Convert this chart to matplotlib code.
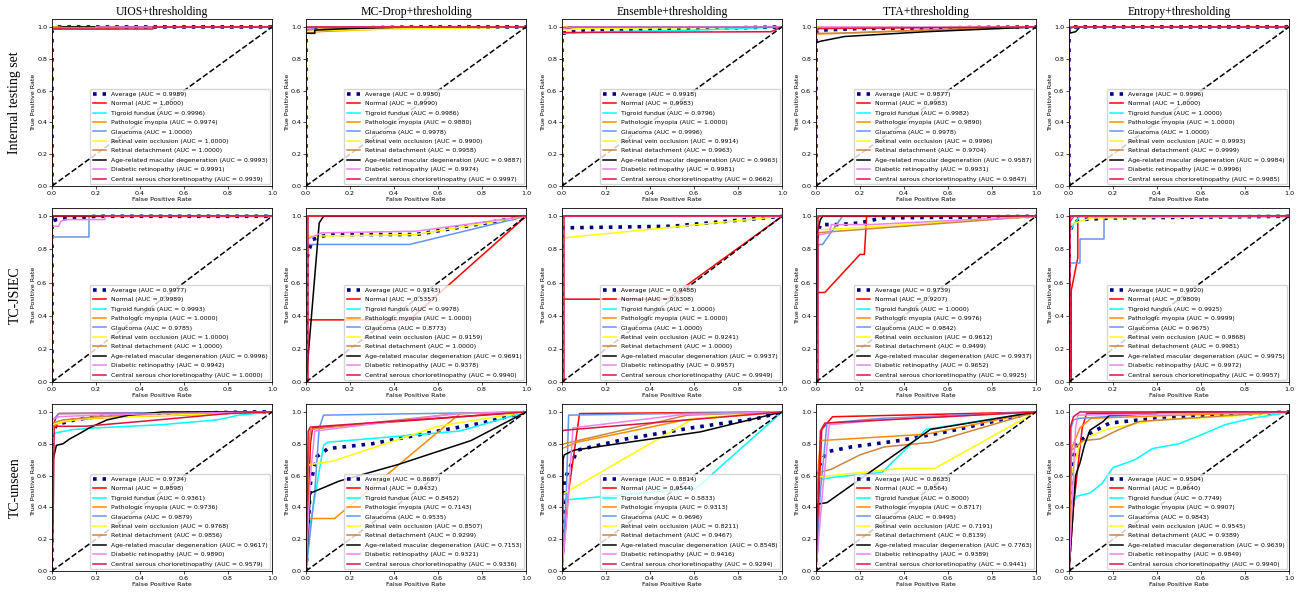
import matplotlib
matplotlib.use("Agg")
import matplotlib.pyplot as plt

# ---- labels ----
METHODS = ["UIOS+thresholding", "MC-Drop+thresholding", "Ensemble+thresholding",
           "TTA+thresholding", "Entropy+thresholding"]
DATASETS = ["Internal testing set", "TC-JSIEC", "TC-unseen"]
CLASSES = ["Normal", "Tigroid fundus", "Pathologic myopia", "Glaucoma",
           "Retinal vein occlusion", "Retinal detachment",
           "Age-related macular degeneration", "Diabetic retinopathy",
           "Central serous chorioretinopathy"]

# ---- AUCs: [average, 9 classes] ----
int_uios_auc = [0.9989, 1.0000, 0.9996, 0.9974, 1.0000, 1.0000, 1.0000, 0.9993, 0.9991, 0.9939]
int_mcd_auc = [0.9950, 0.9990, 0.9986, 0.9880, 0.9978, 0.9900, 0.9958, 0.9887, 0.9974, 0.9997]
int_ens_auc = [0.9918, 0.9983, 0.9796, 1.0000, 0.9996, 0.9914, 0.9963, 0.9963, 0.9981, 0.9662]
int_tta_auc = [0.9877, 0.9983, 0.9982, 0.9890, 0.9978, 0.9996, 0.9704, 0.9587, 0.9931, 0.9847]
int_ent_auc = [0.9996, 1.0000, 1.0000, 1.0000, 1.0000, 0.9993, 0.9999, 0.9984, 0.9996, 0.9985]

jsiec_uios_auc = [0.9977, 0.9989, 0.9993, 1.0000, 0.9785, 1.0000, 1.0000, 0.9996, 0.9942, 1.0000]
jsiec_mcd_auc = [0.9143, 0.5357, 0.9978, 1.0000, 0.8773, 0.9159, 1.0000, 0.9691, 0.9378, 0.9940]
jsiec_ens_auc = [0.9488, 0.6308, 1.0000, 1.0000, 1.0000, 0.9241, 1.0000, 0.9937, 0.9957, 0.9949]
jsiec_tta_auc = [0.9739, 0.9207, 1.0000, 0.9976, 0.9842, 0.9612, 0.9499, 0.9937, 0.9652, 0.9925]
jsiec_ent_auc = [0.9920, 0.9809, 0.9925, 0.9999, 0.9675, 0.9868, 0.9981, 0.9975, 0.9972, 0.9957]

unseen_uios_auc = [0.9734, 0.9898, 0.9361, 0.9736, 0.9879, 0.9768, 0.9856, 0.9617, 0.9890, 0.9579]
unseen_mcd_auc = [0.8687, 0.9432, 0.8452, 0.7143, 0.9535, 0.8507, 0.9299, 0.7153, 0.9321, 0.9336]
unseen_ens_auc = [0.8814, 0.9544, 0.5833, 0.9313, 0.9696, 0.8211, 0.9467, 0.8548, 0.9416, 0.9294]
unseen_tta_auc = [0.8633, 0.9564, 0.8000, 0.8717, 0.9495, 0.7191, 0.8139, 0.7763, 0.9389, 0.9441]
unseen_ent_auc = [0.9504, 0.9640, 0.7749, 0.9907, 0.9843, 0.9545, 0.9389, 0.9639, 0.9849, 0.9940]

# ---- ROC curves: (fpr, tpr) for average + 9 classes ----
int_uios_roc = [
    ([0, 0, 0.02, 1], [0, 0.98, 1, 1]),
    ([0, 0, 1], [0, 1, 1]),
    ([0, 0, 0.01, 1], [0, 0.99, 1, 1]),
    ([0, 0, 0.3, 0.3, 1], [0, 0.99, 0.99, 1, 1]),
    ([0, 0, 1], [0, 1, 1]),
    ([0, 0, 1], [0, 1, 1]),
    ([0, 0, 1], [0, 1, 1]),
    ([0, 0, 0.05, 1], [0, 0.99, 1, 1]),
    ([0, 0, 0.2, 0.2, 1], [0, 0.995, 0.995, 1, 1]),
    ([0, 0, 0.46, 0.46, 1], [0, 0.985, 0.985, 1, 1]),
]
int_mcd_roc = [
    ([0, 0, 0.05, 0.5, 1], [0, 0.97, 0.99, 1, 1]),
    ([0, 0, 0.02, 1], [0, 0.99, 1, 1]),
    ([0, 0, 0.02, 1], [0, 0.99, 1, 1]),
    ([0, 0, 0.05, 0.4, 1], [0, 0.96, 0.97, 0.99, 1]),
    ([0, 0, 0.05, 1], [0, 0.98, 1, 1]),
    ([0, 0, 0.1, 0.6, 1], [0, 0.97, 0.98, 0.99, 1]),
    ([0, 0, 0.1, 0.5, 1], [0, 0.98, 0.99, 1, 1]),
    ([0, 0, 0.04, 0.04, 0.2, 0.45, 1], [0, 0.96, 0.96, 0.98, 0.99, 1, 1]),
    ([0, 0, 0.05, 1], [0, 0.99, 1, 1]),
    ([0, 0, 1], [0, 1, 1]),
]
int_ens_roc = [
    ([0, 0, 0.1, 0.6, 1], [0, 0.96, 0.98, 0.99, 1]),
    ([0, 0, 0.1, 1], [0, 0.99, 1, 1]),
    ([0, 0, 0.2, 0.6, 1], [0, 0.96, 0.97, 0.98, 1]),
    ([0, 0, 1], [0, 1, 1]),
    ([0, 0, 0.05, 1], [0, 0.99, 1, 1]),
    ([0, 0, 0.1, 1], [0, 0.98, 0.99, 1]),
    ([0, 0, 0.05, 1], [0, 0.99, 1, 1]),
    ([0, 0, 0.05, 1], [0, 0.99, 1, 1]),
    ([0, 0, 0.05, 1], [0, 0.99, 1, 1]),
    ([0, 0, 0.95, 1], [0, 0.965, 0.97, 1]),
]
int_tta_roc = [
    ([0, 0, 0.02, 0.2, 1], [0, 0.97, 0.98, 0.99, 1]),
    ([0, 0, 0.01, 1], [0, 0.99, 1, 1]),
    ([0, 0, 0.02, 1], [0, 0.99, 1, 1]),
    ([0, 0, 0.1, 0.7, 1], [0, 0.955, 0.96, 0.99, 1]),
    ([0, 0, 0.02, 1], [0, 0.99, 1, 1]),
    ([0, 0, 1], [0, 1, 1]),
    ([0, 0, 0.1, 0.5, 1], [0, 0.96, 0.96, 0.98, 1]),
    ([0, 0, 0.02, 0.13, 0.5, 1], [0, 0.9, 0.91, 0.94, 0.97, 1]),
    ([0, 0, 0.02, 1], [0, 0.99, 1, 1]),
    ([0, 0, 0.01, 0.01, 1], [0, 0.97, 0.985, 0.99, 1]),
]
int_ent_roc = [
    ([0, 0, 0.02, 1], [0, 0.99, 1, 1]),
    ([0, 0, 1], [0, 1, 1]),
    ([0, 0, 1], [0, 1, 1]),
    ([0, 0, 1], [0, 1, 1]),
    ([0, 0, 1], [0, 1, 1]),
    ([0, 0, 0.02, 1], [0, 0.99, 1, 1]),
    ([0, 0, 0.01, 1], [0, 0.99, 1, 1]),
    ([0, 0, 0.03, 0.05, 1], [0, 0.96, 0.97, 1, 1]),
    ([0, 0, 0.02, 1], [0, 0.99, 1, 1]),
    ([0, 0, 0.02, 1], [0, 0.99, 1, 1]),
]

jsiec_uios_roc = [
    ([0, 0, 0.02, 0.05, 0.1, 0.2, 1], [0, 0.97, 0.98, 0.985, 0.99, 1, 1]),
    ([0, 0, 1], [0, 1, 1]),
    ([0, 0, 0.01, 1], [0, 0.99, 1, 1]),
    ([0, 0, 1], [0, 1, 1]),
    ([0, 0, 0.17, 0.17, 1], [0, 0.875, 0.875, 1, 1]),
    ([0, 0, 1], [0, 1, 1]),
    ([0, 0, 1], [0, 1, 1]),
    ([0, 0, 0.005, 1], [0, 0.95, 1, 1]),
    ([0, 0, 0.03, 0.04, 0.06, 0.24, 0.24, 1], [0, 0.94, 0.94, 0.97, 0.98, 0.98, 1, 1]),
    ([0, 0, 1], [0, 1, 1]),
]
jsiec_mcd_roc = [
    ([0, 0.005, 0.015, 0.03, 0.1, 0.5, 1], [0, 0.75, 0.8, 0.86, 0.89, 0.89, 1]),
    ([0, 0, 0.47, 1], [0, 0.375, 0.375, 1]),
    ([0, 0, 0.005, 1], [0, 0.6, 1, 1]),
    ([0, 0, 1], [0, 1, 1]),
    ([0, 0, 0.01, 0.47, 1], [0, 0.8, 0.83, 0.83, 1]),
    ([0, 0, 0.02, 0.5, 1], [0, 0.88, 0.88, 0.89, 1]),
    ([0, 0, 1], [0, 1, 1]),
    ([0, 0.06, 0.08, 1], [0, 0.96, 1, 1]),
    ([0, 0, 0.02, 0.07, 0.5, 1], [0, 0.86, 0.87, 0.9, 0.91, 1]),
    ([0, 0.01, 0.01, 1], [0, 0, 1, 1]),
]
jsiec_ens_roc = [
    ([0, 0, 0.5, 1], [0, 0.93, 0.94, 1]),
    ([0, 0, 0.48, 1], [0, 0.5, 0.5, 1]),
    ([0, 0, 1], [0, 1, 1]),
    ([0, 0, 1], [0, 1, 1]),
    ([0, 0, 1], [0, 1, 1]),
    ([0, 0, 0.01, 1], [0, 0.85, 0.87, 1]),
    ([0, 0, 1], [0, 1, 1]),
    ([0, 0, 0.01, 1], [0, 0.99, 1, 1]),
    ([0, 0, 0.01, 1], [0, 0.99, 1, 1]),
    ([0, 0.01, 0.01, 1], [0, 0, 1, 1]),
]
jsiec_tta_roc = [
    ([0, 0, 0.02, 0.1, 0.2, 0.3, 1], [0, 0.85, 0.95, 0.95, 0.96, 0.99, 1]),
    ([0, 0, 0.04, 0.2, 0.22, 0.23, 1], [0, 0.54, 0.54, 0.77, 0.77, 1, 1]),
    ([0, 0, 1], [0, 1, 1]),
    ([0, 0, 0.02, 1], [0, 0.98, 1, 1]),
    ([0, 0.01, 0.03, 0.12, 1], [0, 0.83, 0.83, 1, 1]),
    ([0, 0, 0.05, 1], [0, 0.92, 0.92, 1]),
    ([0, 0, 0.2, 1], [0, 0.9, 0.92, 1]),
    ([0, 0.005, 0.02, 0.03, 1], [0, 0.9, 0.98, 1, 1]),
    ([0, 0, 0.02, 0.06, 0.07, 0.25, 1], [0, 0.89, 0.89, 0.9, 0.95, 0.95, 1]),
    ([0, 0.0075, 0.0075, 1], [0, 0, 1, 1]),
]
jsiec_ent_roc = [
    ([0, 0, 0.02, 0.05, 0.2, 1], [0, 0.9, 0.96, 0.98, 0.99, 1]),
    ([0, 0.01, 0.01, 0.04, 0.04, 1], [0, 0, 0.55, 0.75, 1, 1]),
    ([0, 0, 0.02, 0.05, 1], [0, 0.9, 0.95, 1, 1]),
    ([0, 0, 0.01, 1], [0, 0.99, 1, 1]),
    ([0, 0, 0.05, 0.05, 0.16, 0.16, 1], [0, 0.72, 0.72, 0.86, 0.86, 1, 1]),
    ([0, 0, 0.03, 0.1, 1], [0, 0.95, 0.96, 0.99, 1]),
    ([0, 0, 0.02, 1], [0, 0.98, 1, 1]),
    ([0, 0, 0.02, 1], [0, 0.96, 1, 1]),
    ([0, 0, 0.02, 1], [0, 0.97, 1, 1]),
    ([0, 0.005, 0.005, 1], [0, 0, 1, 1]),
]

unseen_uios_roc = [
    ([0, 0, 0.02, 0.1, 0.2, 0.4, 0.9, 1], [0, 0.85, 0.92, 0.95, 0.97, 0.985, 1, 1]),
    ([0, 0, 0.02, 0.03, 1], [0, 0.9, 0.97, 0.99, 1]),
    ([0, 0, 0.02, 0.1, 0.2, 0.5, 0.75, 0.85, 1], [0, 0.85, 0.87, 0.89, 0.9, 0.92, 0.95, 0.98, 1]),
    ([0, 0, 0.03, 0.1, 0.3, 0.6, 1], [0, 0.9, 0.93, 0.95, 0.97, 0.98, 1]),
    ([0, 0, 0.02, 0.03, 1], [0, 0.95, 0.97, 0.99, 1]),
    ([0, 0, 0.05, 0.15, 0.3, 1], [0, 0.92, 0.94, 0.96, 0.97, 1]),
    ([0, 0, 0.05, 0.2, 0.5, 1], [0, 0.93, 0.95, 0.97, 0.99, 1]),
    ([0, 0.005, 0.02, 0.05, 0.08, 0.12, 0.17, 0.25, 0.35, 0.5, 1],
     [0, 0.7, 0.79, 0.8, 0.83, 0.86, 0.9, 0.95, 0.98, 1, 1]),
    ([0, 0, 0.03, 0.2, 0.5, 1], [0, 0.95, 0.97, 0.98, 0.99, 1]),
    ([0, 0.005, 0.01, 0.02, 0.15, 0.4, 0.8, 1], [0, 0.3, 0.9, 0.91, 0.91, 0.94, 0.99, 1]),
]
unseen_mcd_roc = [
    ([0, 0.02, 0.05, 0.1, 0.3, 0.6, 0.8, 1], [0, 0.55, 0.72, 0.77, 0.8, 0.88, 0.93, 1]),
    ([0, 0.02, 0.03, 1], [0, 0.8, 0.9, 1]),
    ([0, 0.02, 0.08, 0.1, 0.7, 1], [0, 0.3, 0.79, 0.81, 0.88, 1]),
    ([0, 0.005, 0.02, 0.13, 0.7, 1], [0, 0.32, 0.33, 0.33, 0.99, 1]),
    ([0, 0.04, 0.06, 0.08, 1], [0, 0.5, 0.9, 0.98, 1]),
    ([0, 0, 0.02, 0.12, 0.6, 1], [0, 0.66, 0.67, 0.69, 0.91, 1]),
    ([0, 0.01, 0.02, 0.69, 1], [0, 0.7, 0.89, 0.99, 1]),
    ([0, 0.02, 0.09, 0.15, 0.42, 0.75, 1], [0, 0.49, 0.53, 0.565, 0.67, 0.82, 1]),
    ([0, 0.02, 0.04, 0.69, 1], [0, 0.6, 0.88, 0.99, 1]),
    ([0, 0.01, 0.02, 1], [0, 0.88, 0.905, 1]),
]
unseen_ens_roc = [
    ([0, 0.01, 0.07, 0.29, 0.59, 0.89, 1], [0, 0.57, 0.76, 0.83, 0.9, 0.96, 1]),
    ([0, 0.03, 0.08, 1], [0, 0.5, 0.99, 1]),
    ([0, 0.005, 0.04, 0.61, 1], [0, 0.45, 0.45, 0.52, 1]),
    ([0, 0, 0.07, 0.56, 1], [0, 0.77, 0.81, 0.95, 1]),
    ([0, 0.02, 0.03, 1], [0, 0.5, 0.98, 1]),
    ([0, 0, 0.6, 1], [0, 0.48, 0.96, 1]),
    ([0, 0, 0.01, 0.57, 1], [0, 0.79, 0.8, 0.98, 1]),
    ([0, 0.005, 0.01, 0.055, 0.63, 1], [0, 0.7, 0.73, 0.76, 0.875, 1]),
    ([0, 0.02, 0.05, 0.56, 1], [0, 0.3, 0.9, 0.985, 1]),
    ([0, 0, 0.01, 1], [0, 0.88, 0.885, 1]),
]
unseen_tta_roc = [
    ([0, 0.01, 0.05, 0.16, 0.38, 0.61, 1], [0, 0.65, 0.75, 0.78, 0.82, 0.88, 1]),
    ([0, 0.026, 0.075, 1], [0, 0.89, 0.97, 1]),
    ([0, 0, 0.08, 0.3, 0.5, 1], [0, 0.57, 0.59, 0.62, 0.89, 1]),
    ([0, 0.005, 0.02, 0.5, 1], [0, 0.55, 0.82, 0.86, 1]),
    ([0, 0.02, 0.05, 0.3, 1], [0, 0.5, 0.93, 0.96, 1]),
    ([0, 0, 0.38, 0.54, 1], [0, 0.59, 0.645, 0.645, 1]),
    ([0, 0.005, 0.015, 0.07, 0.2, 0.31, 0.53, 1], [0, 0.55, 0.62, 0.64, 0.73, 0.78, 0.81, 1]),
    ([0, 0.005, 0.05, 0.52, 1], [0, 0.42, 0.43, 0.89, 1]),
    ([0, 0.03, 0.06, 0.3, 1], [0, 0.5, 0.92, 0.95, 1]),
    ([0, 0.02, 0.04, 1], [0, 0.88, 0.93, 1]),
]
unseen_ent_roc = [
    ([0, 0.01, 0.035, 0.095, 0.185, 0.32, 0.55, 0.85, 1], [0, 0.65, 0.8, 0.865, 0.93, 0.95, 0.97, 0.99, 1]),
    ([0, 0.02, 0.06, 0.08, 1], [0, 0.4, 0.9, 0.99, 1]),
    ([0, 0.005, 0.012, 0.035, 0.095, 0.15, 0.2, 0.3, 0.38, 0.5, 0.59, 0.71, 0.83, 0.92, 1],
     [0, 0.4, 0.41, 0.47, 0.49, 0.55, 0.65, 0.7, 0.77, 0.8, 0.85, 0.92, 0.96, 0.98, 1]),
    ([0, 0.005, 0.02, 0.05, 0.1, 0.5, 1], [0, 0.75, 0.8, 0.9, 0.96, 0.98, 1]),
    ([0, 0.01, 0.02, 0.05, 0.4, 1], [0, 0.9, 0.95, 0.96, 0.99, 1]),
    ([0, 0.01, 0.05, 0.1, 0.15, 0.2, 0.4, 0.7, 1], [0, 0.6, 0.8, 0.85, 0.88, 0.9, 0.95, 0.97, 1]),
    ([0, 0.012, 0.065, 0.14, 0.22, 0.32, 0.86, 1], [0, 0.76, 0.82, 0.83, 0.885, 0.94, 0.99, 1]),
    ([0, 0.03, 0.05, 0.07, 0.095, 0.155, 0.185, 0.4, 0.4, 1],
     [0, 0.6, 0.68, 0.79, 0.885, 0.94, 0.98, 0.99, 1, 1]),
    ([0, 0.02, 0.03, 0.04, 1], [0, 0.6, 0.9, 0.98, 1]),
    ([0, 0.005, 0.02, 0.05, 1], [0, 0.9, 0.97, 1, 1]),
]

panels = [
    [(int_uios_auc, int_uios_roc), (int_mcd_auc, int_mcd_roc), (int_ens_auc, int_ens_roc),
     (int_tta_auc, int_tta_roc), (int_ent_auc, int_ent_roc)],
    [(jsiec_uios_auc, jsiec_uios_roc), (jsiec_mcd_auc, jsiec_mcd_roc), (jsiec_ens_auc, jsiec_ens_roc),
     (jsiec_tta_auc, jsiec_tta_roc), (jsiec_ent_auc, jsiec_ent_roc)],
    [(unseen_uios_auc, unseen_uios_roc), (unseen_mcd_auc, unseen_mcd_roc), (unseen_ens_auc, unseen_ens_roc),
     (unseen_tta_auc, unseen_tta_roc), (unseen_ent_auc, unseen_ent_roc)],
]

line_colors = ["red", "aqua", "darkorange", "cornflowerblue", "yellow",
               "peru", "black", "violet", "crimson"]

W, H = 1306, 597
fig = plt.figure(figsize=(W / 100, H / 100), dpi=100)

col_left = [52, 306, 562, 816, 1069]
row_box = [(19, 186), (208, 382), (404, 571)]   # (top px, bottom px)
ax_w = 220

for r in range(3):
    top, bot = row_box[r]
    for c in range(5):
        auc, roc = panels[r][c]
        ax = fig.add_axes([col_left[c] / W, 1 - bot / H, ax_w / W, (bot - top) / H])
        fpr, tpr = roc[0]
        ax.plot(fpr, tpr, color="navy", linestyle=":", linewidth=2.6,
                label=f"Average (AUC = {auc[0]:.4f})")
        for k, name in enumerate(CLASSES):
            fpr, tpr = roc[k + 1]
            ax.plot(fpr, tpr, color=line_colors[k], linewidth=1.1,
                    label=f"{name} (AUC = {auc[k + 1]:.4f})")
        ax.plot([0, 1], [0, 1], "k--", linewidth=1.1)
        ax.set_xlim(0.0, 1.0)
        ax.set_ylim(0.0, 1.05)
        ax.tick_params(labelsize=4.6, length=2, width=0.5, pad=1.5)
        ax.set_xlabel("False Positive Rate", fontsize=4.6, labelpad=1)
        ax.set_ylabel("True Positive Rate", fontsize=4.6, labelpad=1)
        for s in ax.spines.values():
            s.set_linewidth(0.6)
        ax.legend(loc="lower right", fontsize=4.4, borderaxespad=0.3,
                  handlelength=2.2, labelspacing=0.68, borderpad=0.4)
        if r == 0:
            ax.set_title(METHODS[c], fontsize=8.5, family="Liberation Serif", pad=3)
        if c == 0:
            fig.text(15 / W, 1 - (top + bot) / 2 / H, DATASETS[r], rotation=90,
                     ha="center", va="center", fontsize=10, family="Liberation Serif")

fig.savefig("out.png", dpi=100)
